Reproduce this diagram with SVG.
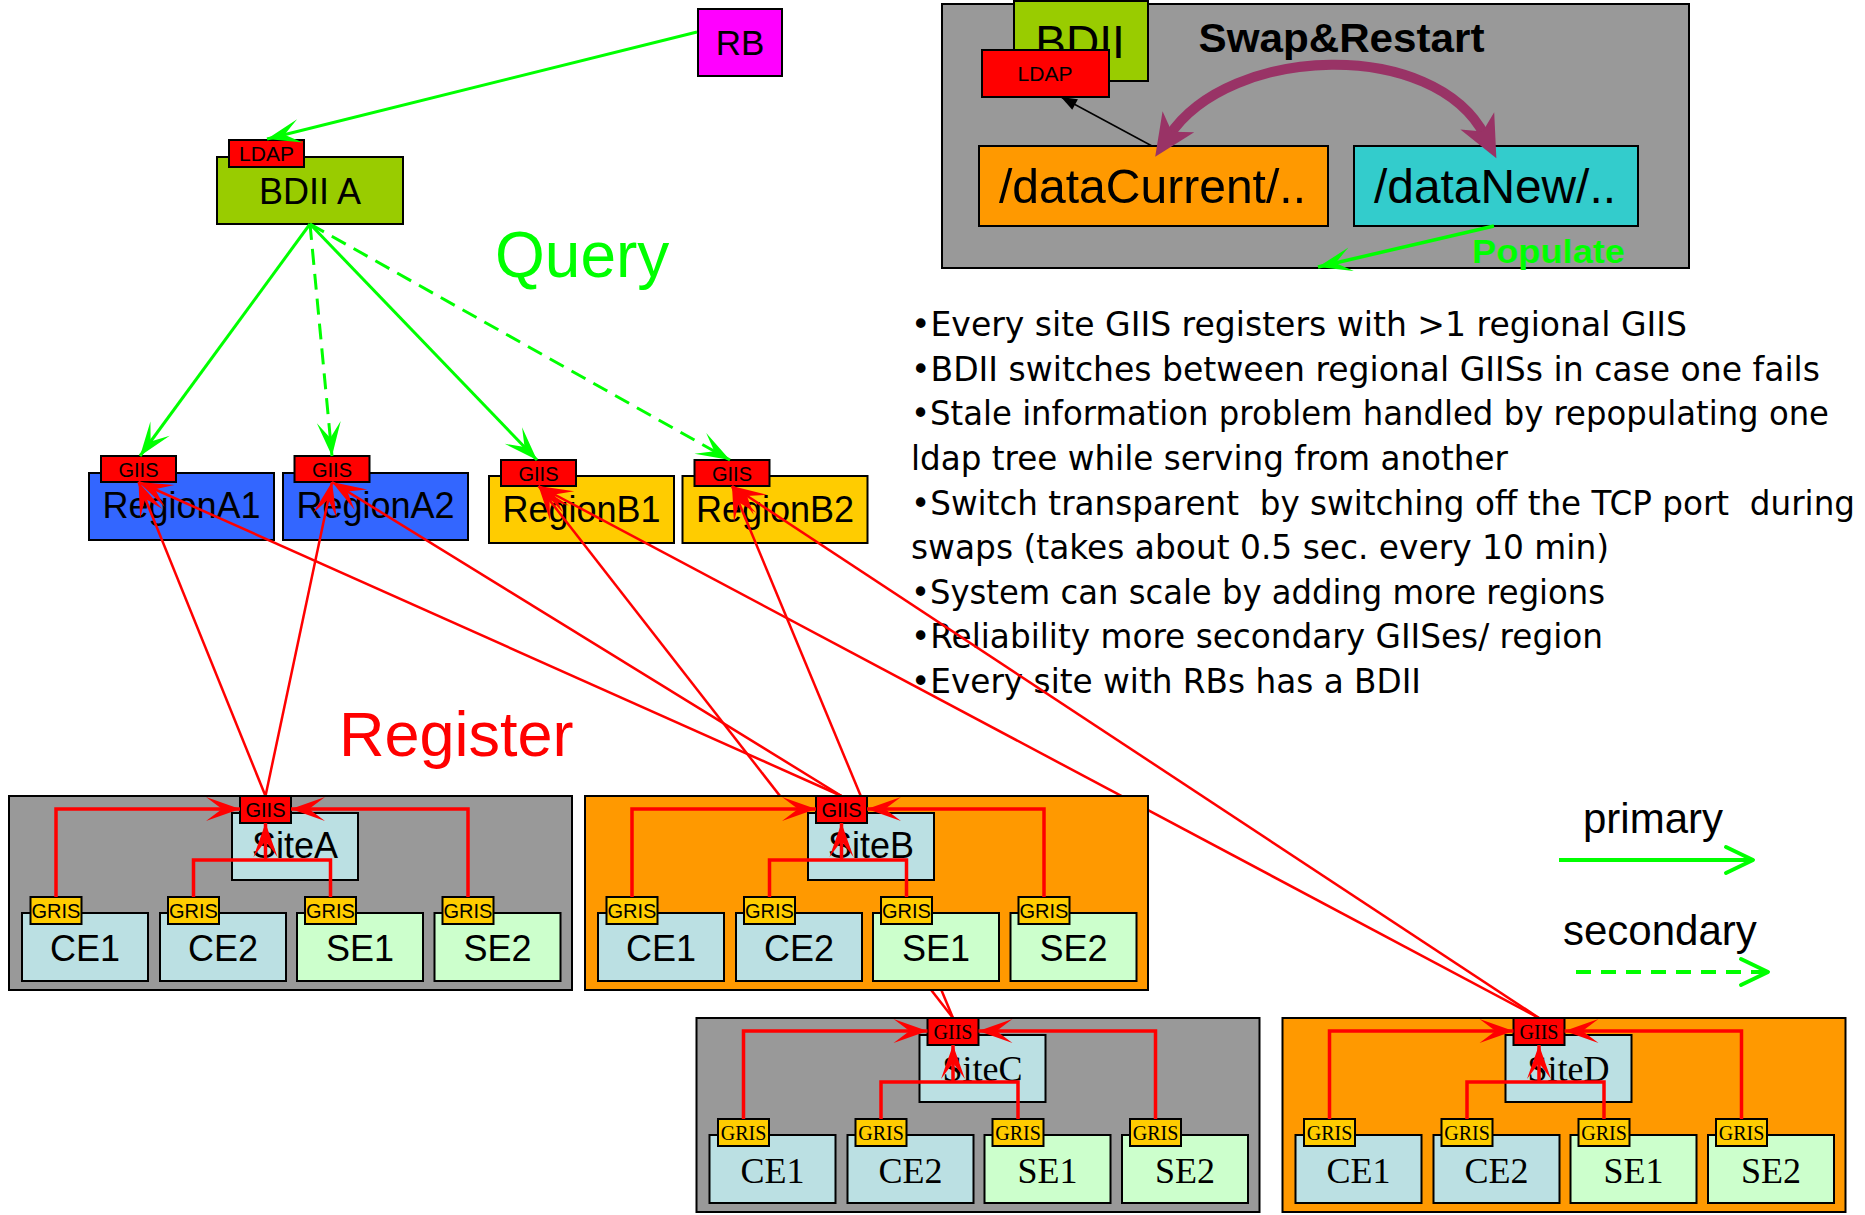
<svg xmlns="http://www.w3.org/2000/svg" width="1865" height="1215" viewBox="0 0 1865 1215">
<style>
 .bx{stroke:#000;stroke-width:2}
 .sans{font-family:"Liberation Sans",Arial,sans-serif}
 .serif{font-family:"Liberation Serif","Times New Roman",serif}
 .mid{text-anchor:middle}
 .grn{stroke:#00FF00;stroke-width:3;fill:none}
 .dash{stroke-dasharray:16 9}
 .red{stroke:#FF0000;stroke-width:2.5;fill:none}
 .redt{stroke:#FF0000;stroke-width:3.5;fill:none}
 .bul{font-family:"DejaVu Sans",Tahoma,sans-serif;font-size:33px;fill:#000}
 .gray{fill:#999999}
 .orng{fill:#FF9900}
 .lb{fill:#BBE0E3}
 .lg{fill:#CCFFCC}
 .yel{fill:#FFCC00}
 .rd{fill:#FF0000}
 .big{font-size:36px}
 .sm{font-size:20px}
</style>
<defs>
 <marker id="ah-g" markerUnits="userSpaceOnUse" viewBox="-36 -13 38 26" refX="0" refY="0" markerWidth="38" markerHeight="26" orient="auto"><path d="M0,0 L-34,-12 L-18,0 L-34,12 Z" fill="#00FF00"/></marker>
 <marker id="ah-r" markerUnits="userSpaceOnUse" viewBox="-36 -13 38 26" refX="0" refY="0" markerWidth="38" markerHeight="26" orient="auto"><path d="M0,0 L-34,-12 L-18,0 L-34,12 Z" fill="#FF0000"/></marker>
 <marker id="ah-k" markerUnits="userSpaceOnUse" viewBox="-17 -8 19 16" refX="0" refY="0" markerWidth="19" markerHeight="16" orient="auto"><path d="M0,0 L-16,-6 L-16,6 Z" fill="#000"/></marker>
 <marker id="ah-p" markerUnits="userSpaceOnUse" viewBox="-20 -20 48 40" refX="0" refY="0" markerWidth="48" markerHeight="40" orient="auto-start-reverse"><path d="M25,0 L-17,-19 L-5,0 L-17,19 Z" fill="#993366"/></marker>
</defs>
<rect width="1865" height="1215" fill="#FFFFFF"/>

<!-- Top nodes -->
<g id="RB">
 <rect class="bx" x="698" y="9" width="84" height="67" fill="#FF00FF"/>
 <text class="sans mid" x="740" y="55" font-size="35">RB</text>
</g>
<g id="BDII-A">
 <rect class="bx" x="217" y="157" width="186" height="67" fill="#99CC00"/>
 <text class="sans mid big" x="310" y="204">BDII A</text>
 <rect class="bx rd" x="229" y="140" width="75" height="27"/>
 <text class="sans mid" x="266.5" y="161" font-size="21">LDAP</text>
</g>
<text id="query-label" class="sans" x="495" y="277" font-size="64" fill="#00FF00">Query</text>

<g id="RegionA1">
 <rect class="bx" x="89" y="473" width="185" height="67" fill="#3366FF"/>
 <text class="sans mid big" x="181.5" y="518">RegionA1</text>
 <rect class="bx rd" x="101" y="456" width="75" height="26"/>
 <text class="sans mid sm" x="138.5" y="477">GIIS</text>
</g>
<g id="RegionA2">
 <rect class="bx" x="283" y="473" width="185" height="67" fill="#3366FF"/>
 <text class="sans mid big" x="375.5" y="518">RegionA2</text>
 <rect class="bx rd" x="294.5" y="456" width="75" height="26"/>
 <text class="sans mid sm" x="332" y="477">GIIS</text>
</g>
<g id="RegionB1">
 <rect class="bx yel" x="489" y="476" width="185" height="67"/>
 <text class="sans mid big" x="581.5" y="522">RegionB1</text>
 <rect class="bx rd" x="501" y="460" width="75" height="26"/>
 <text class="sans mid sm" x="538.5" y="481">GIIS</text>
</g>
<g id="RegionB2">
 <rect class="bx yel" x="682.5" y="476" width="185" height="67"/>
 <text class="sans mid big" x="775" y="522">RegionB2</text>
 <rect class="bx rd" x="694.5" y="460" width="75" height="26"/>
 <text class="sans mid sm" x="732" y="481">GIIS</text>
</g>

<!-- Swap & Restart panel -->
<g id="swap-panel">
 <rect class="bx gray" x="942" y="4" width="747" height="264"/>
 <text class="sans" x="1198.5" y="52" font-size="41" font-weight="bold" textLength="286" lengthAdjust="spacingAndGlyphs">Swap&amp;Restart</text>
</g>
<g id="BDII">
 <rect class="bx" x="1014" y="1" width="134" height="80" fill="#99CC00"/>
 <text class="sans mid" x="1080" y="58" font-size="46">BDII</text>
</g>
<g id="LDAP">
 <rect class="bx rd" x="982" y="50" width="127" height="47"/>
 <text class="sans mid" x="1045" y="81" font-size="21">LDAP</text>
</g>
<g id="dataCurrent">
 <rect class="bx orng" x="979" y="146" width="349" height="80"/>
 <text class="sans" x="999" y="203" font-size="48" textLength="307" lengthAdjust="spacingAndGlyphs">/dataCurrent/..</text>
</g>
<g id="dataNew">
 <rect class="bx" x="1354" y="146" width="284" height="80" fill="#33CCCC"/>
 <text class="sans" x="1374" y="203" font-size="48" textLength="242" lengthAdjust="spacingAndGlyphs">/dataNew/..</text>
</g>
<text id="populate-label" class="sans" x="1472" y="263" font-size="34" font-weight="bold" fill="#00FF00" textLength="153" lengthAdjust="spacingAndGlyphs">Populate</text>

<!-- Bullet text -->
<g id="notes" class="bul">
 <text x="911" y="336" textLength="776" lengthAdjust="spacingAndGlyphs">•Every site GIIS registers with &gt;1 regional GIIS</text>
 <text x="911" y="381" textLength="909" lengthAdjust="spacingAndGlyphs">•BDII switches between regional GIISs in case one fails</text>
 <text x="911" y="425" textLength="918" lengthAdjust="spacingAndGlyphs">•Stale information problem handled by repopulating one</text>
 <text x="911" y="470" textLength="597" lengthAdjust="spacingAndGlyphs">ldap tree while serving from another</text>
 <text x="911" y="515" textLength="944" lengthAdjust="spacingAndGlyphs" xml:space="preserve">•Switch transparent  by switching off the TCP port  during</text>
 <text x="911" y="559" textLength="698" lengthAdjust="spacingAndGlyphs">swaps (takes about 0.5 sec. every 10 min)</text>
 <text x="911" y="604" textLength="694" lengthAdjust="spacingAndGlyphs">•System can scale by adding more regions</text>
 <text x="911" y="648" textLength="692" lengthAdjust="spacingAndGlyphs">•Reliability more secondary GIISes/ region</text>
 <text x="911" y="693" textLength="510" lengthAdjust="spacingAndGlyphs">•Every site with RBs has a BDII</text>
</g>

<!-- Legend -->
<g id="legend">
 <text class="sans" x="1583" y="833" font-size="42">primary</text>
 <path d="M1559,860 H1752" stroke="#00FF00" stroke-width="4" fill="none"/>
 <polyline points="1726,847 1753,860 1726,873" stroke="#00FF00" stroke-width="4" fill="none" stroke-linecap="round" stroke-linejoin="round"/>
 <text class="sans" x="1563" y="945" font-size="42">secondary</text>
 <path d="M1576,972 H1766" stroke="#00FF00" stroke-width="4" fill="none" stroke-dasharray="15 10"/>
 <polyline points="1741,959 1768,972 1741,985" stroke="#00FF00" stroke-width="4" fill="none" stroke-linecap="round" stroke-linejoin="round"/>
</g>
<text id="register-label" class="sans" x="339" y="756" font-size="63" fill="#FF0000">Register</text>

<!-- Connectors between levels -->
<g id="connectors">
 <path class="grn" d="M697,32 L267,139" marker-end="url(#ah-g)"/>
 <path class="grn" d="M310,224 L140,456" marker-end="url(#ah-g)"/>
 <path class="grn dash" d="M310,224 L332,456" marker-end="url(#ah-g)"/>
 <path class="grn" d="M310,224 L537,460" marker-end="url(#ah-g)"/>
 <path class="grn dash" d="M310,224 L730,460" marker-end="url(#ah-g)"/>
 <path d="M1494,226 L1318,267" stroke="#00FF00" stroke-width="3.5" fill="none" marker-end="url(#ah-g)"/>
 <path d="M1152,146 L1061,97" stroke="#000" stroke-width="1.5" fill="none" marker-end="url(#ah-k)"/>
 <path d="M1169,136 C1230,44 1435,38 1485,136" stroke="#993366" stroke-width="10" fill="none" marker-start="url(#ah-p)" marker-end="url(#ah-p)"/>
 <path class="red" d="M265.5,796 L138.5,482" marker-end="url(#ah-r)"/>
 <path class="red" d="M265.5,796 L332,482" marker-end="url(#ah-r)"/>
 <path class="red" d="M841.5,796 L138.5,482" marker-end="url(#ah-r)"/>
 <path class="red" d="M841.5,796 L332,482" marker-end="url(#ah-r)"/>
 <path class="red" d="M953,1018 L538.5,486" marker-end="url(#ah-r)"/>
 <path class="red" d="M953,1018 L732,486" marker-end="url(#ah-r)"/>
 <path class="red" d="M1539,1018 L538.5,486" marker-end="url(#ah-r)"/>
 <path class="red" d="M1539,1018 L732,486" marker-end="url(#ah-r)"/>
</g>

<!-- Sites -->
<g id="SiteA" class="sans">
 <rect class="bx gray" x="9" y="796" width="563" height="194"/>
 <rect class="bx lb" x="232" y="813" width="126" height="67"/>
 <text class="mid big" x="295" y="858">SiteA</text>
 <rect class="bx rd" x="240" y="796" width="51" height="27"/>
 <text class="mid sm" x="265.5" y="817">GIIS</text>
 <rect class="bx lb" x="22" y="913" width="126" height="68"/><text class="mid big" x="85" y="961">CE1</text>
 <rect class="bx lb" x="160" y="913" width="126" height="68"/><text class="mid big" x="223" y="961">CE2</text>
 <rect class="bx lg" x="297" y="913" width="126" height="68"/><text class="mid big" x="360" y="961">SE1</text>
 <rect class="bx lg" x="434.5" y="913" width="126" height="68"/><text class="mid big" x="497.5" y="961">SE2</text>
 <rect class="bx yel" x="30.5" y="897" width="51" height="27"/><text class="mid sm" x="56" y="918">GRIS</text>
 <rect class="bx yel" x="168" y="897" width="51" height="27"/><text class="mid sm" x="193.5" y="918">GRIS</text>
 <rect class="bx yel" x="305" y="897" width="51" height="27"/><text class="mid sm" x="330.5" y="918">GRIS</text>
 <rect class="bx yel" x="442.5" y="897" width="51" height="27"/><text class="mid sm" x="468" y="918">GRIS</text>
</g>
<g id="SiteB" class="sans" transform="translate(576,0)">
 <rect class="bx orng" x="9" y="796" width="563" height="194"/>
 <rect class="bx lb" x="232" y="813" width="126" height="67"/>
 <text class="mid big" x="295" y="858">SiteB</text>
 <rect class="bx rd" x="240" y="796" width="51" height="27"/>
 <text class="mid sm" x="265.5" y="817">GIIS</text>
 <rect class="bx lb" x="22" y="913" width="126" height="68"/><text class="mid big" x="85" y="961">CE1</text>
 <rect class="bx lb" x="160" y="913" width="126" height="68"/><text class="mid big" x="223" y="961">CE2</text>
 <rect class="bx lg" x="297" y="913" width="126" height="68"/><text class="mid big" x="360" y="961">SE1</text>
 <rect class="bx lg" x="434.5" y="913" width="126" height="68"/><text class="mid big" x="497.5" y="961">SE2</text>
 <rect class="bx yel" x="30.5" y="897" width="51" height="27"/><text class="mid sm" x="56" y="918">GRIS</text>
 <rect class="bx yel" x="168" y="897" width="51" height="27"/><text class="mid sm" x="193.5" y="918">GRIS</text>
 <rect class="bx yel" x="305" y="897" width="51" height="27"/><text class="mid sm" x="330.5" y="918">GRIS</text>
 <rect class="bx yel" x="442.5" y="897" width="51" height="27"/><text class="mid sm" x="468" y="918">GRIS</text>
</g>
<g id="SiteC" class="serif" transform="translate(687.5,222)">
 <rect class="bx gray" x="9" y="796" width="563" height="194"/>
 <rect class="bx lb" x="232" y="813" width="126" height="67"/>
 <text class="mid big" x="295" y="859">SiteC</text>
 <rect class="bx rd" x="240" y="796" width="51" height="27"/>
 <text class="mid sm" x="265.5" y="817">GIIS</text>
 <rect class="bx lb" x="22" y="913" width="126" height="68"/><text class="mid big" x="85" y="961">CE1</text>
 <rect class="bx lb" x="160" y="913" width="126" height="68"/><text class="mid big" x="223" y="961">CE2</text>
 <rect class="bx lg" x="297" y="913" width="126" height="68"/><text class="mid big" x="360" y="961">SE1</text>
 <rect class="bx lg" x="434.5" y="913" width="126" height="68"/><text class="mid big" x="497.5" y="961">SE2</text>
 <rect class="bx yel" x="30.5" y="897" width="51" height="27"/><text class="mid sm" x="56" y="918">GRIS</text>
 <rect class="bx yel" x="168" y="897" width="51" height="27"/><text class="mid sm" x="193.5" y="918">GRIS</text>
 <rect class="bx yel" x="305" y="897" width="51" height="27"/><text class="mid sm" x="330.5" y="918">GRIS</text>
 <rect class="bx yel" x="442.5" y="897" width="51" height="27"/><text class="mid sm" x="468" y="918">GRIS</text>
</g>
<g id="SiteD" class="serif" transform="translate(1273.5,222)">
 <rect class="bx orng" x="9" y="796" width="563" height="194"/>
 <rect class="bx lb" x="232" y="813" width="126" height="67"/>
 <text class="mid big" x="295" y="859">SiteD</text>
 <rect class="bx rd" x="240" y="796" width="51" height="27"/>
 <text class="mid sm" x="265.5" y="817">GIIS</text>
 <rect class="bx lb" x="22" y="913" width="126" height="68"/><text class="mid big" x="85" y="961">CE1</text>
 <rect class="bx lb" x="160" y="913" width="126" height="68"/><text class="mid big" x="223" y="961">CE2</text>
 <rect class="bx lg" x="297" y="913" width="126" height="68"/><text class="mid big" x="360" y="961">SE1</text>
 <rect class="bx lg" x="434.5" y="913" width="126" height="68"/><text class="mid big" x="497.5" y="961">SE2</text>
 <rect class="bx yel" x="30.5" y="897" width="51" height="27"/><text class="mid sm" x="56" y="918">GRIS</text>
 <rect class="bx yel" x="168" y="897" width="51" height="27"/><text class="mid sm" x="193.5" y="918">GRIS</text>
 <rect class="bx yel" x="305" y="897" width="51" height="27"/><text class="mid sm" x="330.5" y="918">GRIS</text>
 <rect class="bx yel" x="442.5" y="897" width="51" height="27"/><text class="mid sm" x="468" y="918">GRIS</text>
</g>

<!-- Connectors inside sites -->
<g id="site-connectors">
 <g transform="translate(0,0)">
  <path class="redt" d="M56,897 V809 H240" marker-end="url(#ah-r)"/>
  <path class="redt" d="M468,897 V809 H291" marker-end="url(#ah-r)"/>
  <path class="redt" d="M193.5,897 V860 H330.5 V897"/>
  <path class="redt" d="M265.5,860 V823" marker-end="url(#ah-r)"/>
 </g>
 <g transform="translate(576,0)">
  <path class="redt" d="M56,897 V809 H240" marker-end="url(#ah-r)"/>
  <path class="redt" d="M468,897 V809 H291" marker-end="url(#ah-r)"/>
  <path class="redt" d="M193.5,897 V860 H330.5 V897"/>
  <path class="redt" d="M265.5,860 V823" marker-end="url(#ah-r)"/>
 </g>
 <g transform="translate(687.5,222)">
  <path class="redt" d="M56,897 V809 H240" marker-end="url(#ah-r)"/>
  <path class="redt" d="M468,897 V809 H291" marker-end="url(#ah-r)"/>
  <path class="redt" d="M193.5,897 V860 H330.5 V897"/>
  <path class="redt" d="M265.5,860 V823" marker-end="url(#ah-r)"/>
 </g>
 <g transform="translate(1273.5,222)">
  <path class="redt" d="M56,897 V809 H240" marker-end="url(#ah-r)"/>
  <path class="redt" d="M468,897 V809 H291" marker-end="url(#ah-r)"/>
  <path class="redt" d="M193.5,897 V860 H330.5 V897"/>
  <path class="redt" d="M265.5,860 V823" marker-end="url(#ah-r)"/>
 </g>
</g>
</svg>
